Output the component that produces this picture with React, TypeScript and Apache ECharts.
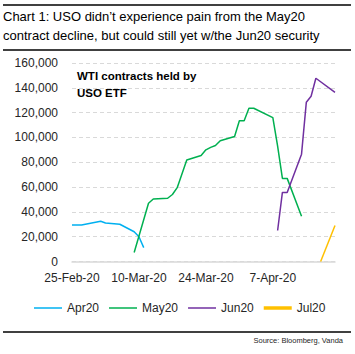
import React, { useEffect, useRef } from "react";
import * as echarts from "echarts";

const titleLines = [
  "Chart 1: USO didn\u2019t experience pain from the May20",
  "contract decline, but could still yet w/the Jun20 security",
];
const annotationLines = ["WTI contracts held by", "USO ETF"];
const sourceText = "Source: Bloomberg, Vanda";

const startDate = "2020-02-25";
const endDate = "2020-04-20";
const xTickStepDays = 14;
const monthNames = ["Jan", "Feb", "Mar", "Apr", "May", "Jun", "Jul", "Aug", "Sep", "Oct", "Nov", "Dec"];

const apr20Dates = ["2020-02-25", "2020-02-26", "2020-02-27", "2020-03-02", "2020-03-03", "2020-03-06", "2020-03-09", "2020-03-10", "2020-03-11"];
const apr20Values = [29400, 29400, 29400, 32400, 31000, 30000, 24000, 20000, 11200];

const may20Dates = ["2020-03-09", "2020-03-12", "2020-03-13", "2020-03-16", "2020-03-17", "2020-03-18", "2020-03-20", "2020-03-23", "2020-03-24", "2020-03-25", "2020-03-26", "2020-03-27", "2020-03-30", "2020-03-31", "2020-04-01", "2020-04-02", "2020-04-03", "2020-04-07", "2020-04-08", "2020-04-09", "2020-04-10", "2020-04-13"];
const may20Values = [7300, 47000, 50400, 51000, 54000, 59500, 81800, 85500, 90000, 92000, 93500, 97300, 100800, 113500, 113500, 123500, 123500, 116000, 93000, 67000, 67000, 36500];

const jun20Dates = ["2020-04-08", "2020-04-09", "2020-04-10", "2020-04-13", "2020-04-14", "2020-04-15", "2020-04-16", "2020-04-20"];
const jun20Values = [25000, 55700, 55700, 86500, 128300, 133200, 147700, 136400];

const jul20Dates = ["2020-04-17", "2020-04-20"];
const jul20Values = [0, 29000];

const yMax = 160000;
const yStep = 20000;

const DAY = 86400000;
const toUtc = (s: string) => {
  const [y, m, d] = s.split("-").map(Number);
  return Date.UTC(y, m - 1, d);
};
const dayOffset = (s: string) => Math.round((toUtc(s) - toUtc(startDate)) / DAY);
const pairs = (dates: string[], vals: number[]) => dates.map((d, i) => [dayOffset(d), vals[i]]);
const fmtDay = (off: number) => {
  const dt = new Date(toUtc(startDate) + off * DAY);
  return `${dt.getUTCDate()}-${monthNames[dt.getUTCMonth()]}-${String(dt.getUTCFullYear()).slice(2)}`;
};

const FONT = "'Liberation Sans', Arial, sans-serif";
const TEXT = "#262626";
const thinIcon = "path://M0 0H28V1.5H0Z";
const thickIcon = "path://M0 0H28V3.5H0Z";

export default function App() {
  const ref = useRef<HTMLDivElement>(null);
  useEffect(() => {
    if (!ref.current) return;
    const chart = echarts.init(ref.current, undefined, { renderer: "svg" });
    const mk = (name: string, color: string, dates: string[], vals: number[]) => ({
      name,
      type: "line",
      symbol: "none",
      data: pairs(dates, vals),
      lineStyle: { color, width: 1.5 },
      itemStyle: { color },
    });
    chart.setOption({
      animation: false,
      textStyle: { fontFamily: FONT },
      grid: { left: 72, right: 20, top: 63, bottom: 92.5 },
      xAxis: {
        type: "value",
        min: 0,
        max: dayOffset(endDate),
        interval: xTickStepDays,
        axisLine: { show: true, lineStyle: { color: "#d9d9d9", width: 1.5 } },
        axisTick: { show: false },
        splitLine: { show: false },
        axisLabel: {
          color: TEXT,
          fontSize: 12,
          fontFamily: FONT,
          margin: 10,
          showMaxLabel: false,
          formatter: (v: number) => (v % xTickStepDays === 0 ? fmtDay(v) : ""),
        },
      },
      yAxis: {
        type: "value",
        min: 0,
        max: yMax,
        interval: yStep,
        axisLine: { show: false },
        axisTick: { show: false },
        splitLine: { lineStyle: { color: "#d9d9d9", type: [4, 3], width: 1 } },
        axisLabel: {
          color: TEXT,
          fontSize: 12,
          fontFamily: FONT,
          margin: 14,
          formatter: (v: number) => v.toLocaleString("en-US"),
        },
      },
      legend: {
        left: 34,
        top: 302,
        padding: 0,
        itemWidth: 28,
        itemHeight: 14,
        itemGap: 10,
        symbolKeepAspect: true,
        textStyle: { color: TEXT, fontSize: 12, fontFamily: FONT },
        data: [
          { name: "Apr20", icon: thinIcon },
          { name: "May20", icon: thinIcon },
          { name: "Jun20", icon: thinIcon },
          { name: "Jul20", icon: thickIcon },
        ],
      },
      series: [
        mk("Apr20", "#00b0f0", apr20Dates, apr20Values),
        mk("May20", "#00b050", may20Dates, may20Values),
        mk("Jun20", "#7030a0", jun20Dates, jun20Values),
        mk("Jul20", "#ffc000", jul20Dates, jul20Values),
      ],
      graphic: [
        { type: "line", shape: { x1: 3, y1: 5, x2: 351, y2: 5 }, style: { stroke: "#000", lineWidth: 1.5 } },
        { type: "text", x: 3, y: 16.5, style: { text: titleLines[0], font: `13px ${FONT}`, fill: "#000", textVerticalAlign: "middle" } },
        { type: "text", x: 3, y: 35, style: { text: titleLines[1], font: `13px ${FONT}`, fill: "#000", textVerticalAlign: "middle" } },
        { type: "line", shape: { x1: 3, y1: 50, x2: 351, y2: 50 }, style: { stroke: "#000", lineWidth: 1.5 } },
        { type: "text", x: 77, y: 76, style: { text: annotationLines[0], font: `bold 11.5px ${FONT}`, fill: "#000", textVerticalAlign: "middle" } },
        { type: "text", x: 77, y: 92.5, style: { text: annotationLines[1], font: `bold 11.5px ${FONT}`, fill: "#000", textVerticalAlign: "middle" } },
        { type: "line", shape: { x1: 3, y1: 332, x2: 351, y2: 332 }, style: { stroke: "#000", lineWidth: 1.5 } },
        { type: "text", x: 343, y: 340.5, style: { text: sourceText, font: `7.5px ${FONT}`, fill: TEXT, textAlign: "right", textVerticalAlign: "middle" } },
      ],
    });
    return () => chart.dispose();
  }, []);
  return (
    <div
      ref={ref}
      style={{ position: "fixed", left: 0, top: 0, width: 355, height: 354, background: "#fff" }}
    />
  );
}
